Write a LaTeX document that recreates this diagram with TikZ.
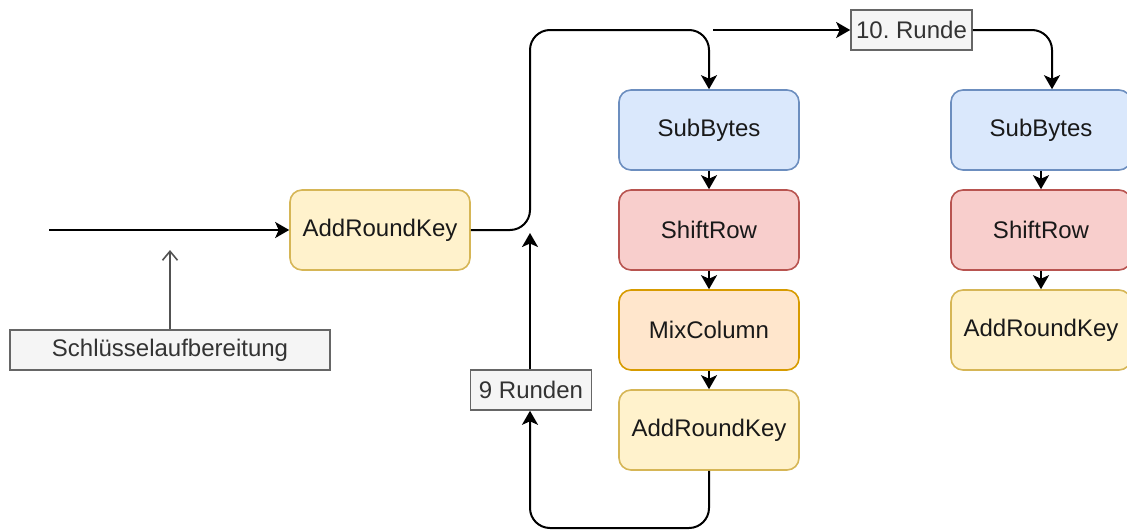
\documentclass[tikz,border=0pt]{standalone}
\usepackage{fontspec}
\setmainfont{Liberation Sans}
\usetikzlibrary{arrows.meta}
\definecolor{bluef}{HTML}{DAE8FC}\definecolor{bluel}{HTML}{6C8EBF}
\definecolor{redf}{HTML}{F8CECC}\definecolor{redl}{HTML}{B85450}
\definecolor{oraf}{HTML}{FFE6CC}\definecolor{oral}{HTML}{D79B00}
\definecolor{yelf}{HTML}{FFF2CC}\definecolor{yell}{HTML}{D6B656}
\definecolor{grayf}{HTML}{F5F5F5}\definecolor{grayl}{HTML}{666666}
\definecolor{grayt}{HTML}{333333}
\frenchspacing
\begin{document}
\begin{tikzpicture}[x=1pt,y=-1pt,
  font=\fontsize{24pt}{28pt}\selectfont,
  box/.style={rectangle,rounded corners=12pt,draw,line width=1.6pt,minimum width=180pt,minimum height=80pt,inner sep=0pt,text=black!90},
  bluebox/.style={box,fill=bluef,draw=bluel},
  redbox/.style={box,fill=redf,draw=redl},
  orabox/.style={box,fill=oraf,draw=oral},
  yelbox/.style={box,fill=yelf,draw=yell},
  lab/.style={rectangle,draw=grayl,fill=grayf,text=grayt,line width=1.6pt,inner sep=0pt,minimum height=40pt},
  conn/.style={line width=2pt,draw=black},
  tipc/.style={-{Stealth[length=14pt,width=16pt,inset=3.5pt]}},
  tipo/.style={-{Straight Barb[length=9pt,width=15pt,line width=1.6pt]}},
]
\useasboundingbox (0,0) rectangle (1127,530);
% nodes
\node[yelbox] (ark0) at (380,230) {AddRoundKey};
\node[lab,minimum width=320pt] (sk) at (170,350) {Schlüsselaufbereitung};
\node[bluebox] (sb1) at (709,130) {SubBytes};
\node[redbox] (sr1) at (709,230) {ShiftRow};
\node[orabox] (mc1) at (709,330) {MixColumn};
\node[yelbox] (ark1) at (709,430) {AddRoundKey};
\node[bluebox] (sb2) at (1041,130) {SubBytes};
\node[redbox] (sr2) at (1041,230) {ShiftRow};
\node[yelbox] (ark2) at (1041,330) {AddRoundKey};
\node[lab,minimum width=121pt] (r9) at (531,390) {9 Runden};
\node[lab,minimum width=121pt] (r10) at (911.5,30) {10. Runde};
% coordinates
\coordinate (in) at (49,230);
\coordinate (kin) at (170,250);
\coordinate (j1) at (530,230);
\coordinate (j2) at (530,30);
\coordinate (j3) at (709,30);
\coordinate (t0) at (713,30);
\coordinate (k1) at (1052,30);
\coordinate (b1) at (709,528);
\coordinate (b2) at (530,528);
\coordinate (j4) at (530,233);
% connectors
\draw[conn,tipc] (in) -- (ark0.west);
\draw[line width=1.6pt,draw=grayl!80!black,tipo] (sk.north) -- (kin);
\draw[conn,tipc,rounded corners=20pt] (ark0.east) -- (j1) -- (j2) -- (j3) -- (sb1.north);
\draw[conn,tipc] (t0) -- (r10.west);
\draw[conn,tipc,rounded corners=20pt] (r10.east) -- (k1) -- (sb2.north -| k1);
\draw[conn,tipc] (sb1) -- (sr1);
\draw[conn,tipc] (sr1) -- (mc1);
\draw[conn,tipc] (mc1) -- (ark1);
\draw[conn,tipc] (sb2) -- (sr2);
\draw[conn,tipc] (sr2) -- (ark2);
\draw[conn,tipc,rounded corners=20pt] (ark1.south) -- (b1) -- (b2) -- (r9.south -| b2);
\draw[conn,tipc] (r9.north -| b2) -- (j4);
\end{tikzpicture}
\end{document}
